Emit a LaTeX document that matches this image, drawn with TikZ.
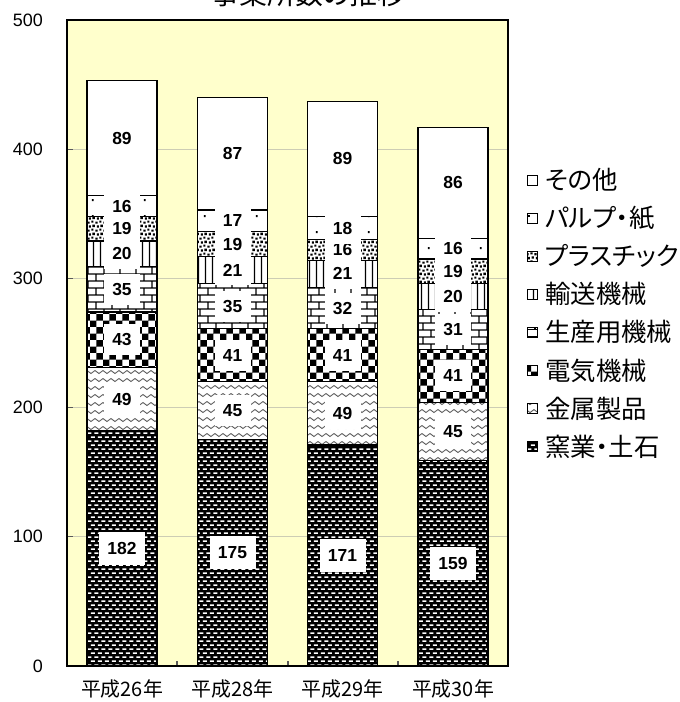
\documentclass[tikz,border=0pt]{standalone}
\usepackage{fontspec}
\setmainfont{Liberation Sans}
\newfontfamily\jp[RawFeature=+palt]{Noto Sans CJK JP}
\usetikzlibrary{patterns}

\definecolor{plotbg}{RGB}{255,255,204}
\definecolor{gridc}{RGB}{205,205,180}
\definecolor{tickc}{RGB}{90,90,90}

\pgfdeclarepatternformonly{darkdash}{\pgfpointorigin}{\pgfqpoint{7pt}{8pt}}{\pgfqpoint{7pt}{8pt}}{%
  \pgfsetlinewidth{1.5pt}%
  \pgfpathmoveto{\pgfqpoint{1pt}{2pt}}\pgfpathlineto{\pgfqpoint{5pt}{2pt}}%
  \pgfpathmoveto{\pgfqpoint{4.5pt}{6pt}}\pgfpathlineto{\pgfqpoint{7pt}{6pt}}%
  \pgfpathmoveto{\pgfqpoint{0pt}{6pt}}\pgfpathlineto{\pgfqpoint{1.5pt}{6pt}}%
  \pgfusepath{stroke}}
\pgfdeclarepatternformonly{wavy}{\pgfpointorigin}{\pgfqpoint{8pt}{8pt}}{\pgfqpoint{8pt}{8pt}}{%
  \pgfsetlinewidth{0.9pt}%
  \pgfpathmoveto{\pgfqpoint{0pt}{5.5pt}}\pgfpathlineto{\pgfqpoint{4pt}{2.5pt}}\pgfpathlineto{\pgfqpoint{8pt}{5.5pt}}%
  \pgfusepath{stroke}}
\pgfdeclarepatternformonly{checker}{\pgfpointorigin}{\pgfqpoint{13pt}{13pt}}{\pgfqpoint{13pt}{13pt}}{%
  \pgfpathrectangle{\pgfpointorigin}{\pgfqpoint{6.5pt}{6.5pt}}%
  \pgfpathrectangle{\pgfqpoint{6.5pt}{6.5pt}}{\pgfqpoint{6.5pt}{6.5pt}}%
  \pgfusepath{fill}}
\pgfdeclarepatternformonly{brick}{\pgfpointorigin}{\pgfqpoint{16pt}{14pt}}{\pgfqpoint{16pt}{14pt}}{%
  \pgfsetlinewidth{1.2pt}%
  \pgfpathmoveto{\pgfqpoint{0pt}{3pt}}\pgfpathlineto{\pgfqpoint{16pt}{3pt}}%
  \pgfpathmoveto{\pgfqpoint{0pt}{10pt}}\pgfpathlineto{\pgfqpoint{16pt}{10pt}}%
  \pgfpathmoveto{\pgfqpoint{1pt}{3pt}}\pgfpathlineto{\pgfqpoint{1pt}{10pt}}%
  \pgfpathmoveto{\pgfqpoint{9pt}{10pt}}\pgfpathlineto{\pgfqpoint{9pt}{14pt}}%
  \pgfpathmoveto{\pgfqpoint{9pt}{0pt}}\pgfpathlineto{\pgfqpoint{9pt}{3pt}}%
  \pgfusepath{stroke}}
\pgfdeclarepatternformonly{vlines}{\pgfpointorigin}{\pgfqpoint{7pt}{7pt}}{\pgfqpoint{7pt}{7pt}}{%
  \pgfsetlinewidth{1.4pt}%
  \pgfpathmoveto{\pgfqpoint{3.5pt}{0pt}}\pgfpathlineto{\pgfqpoint{3.5pt}{7pt}}%
  \pgfusepath{stroke}}
\pgfdeclarepatternformonly{confetti}{\pgfpointorigin}{\pgfqpoint{8pt}{8pt}}{\pgfqpoint{8pt}{8pt}}{%
  \pgfpathrectangle{\pgfqpoint{0.3pt}{0.3pt}}{\pgfqpoint{2.4pt}{2.2pt}}%
  \pgfpathrectangle{\pgfqpoint{4.3pt}{1.3pt}}{\pgfqpoint{2.2pt}{2pt}}%
  \pgfpathrectangle{\pgfqpoint{1.8pt}{4.3pt}}{\pgfqpoint{2pt}{2.4pt}}%
  \pgfpathrectangle{\pgfqpoint{5.5pt}{5pt}}{\pgfqpoint{2.3pt}{2.3pt}}%
  \pgfusepath{fill}}
\pgfdeclarepatternformonly{sdots}{\pgfpointorigin}{\pgfqpoint{12.5pt}{16pt}}{\pgfqpoint{12.5pt}{16pt}}{%
  \pgfpathrectangle{\pgfqpoint{5pt}{7pt}}{\pgfqpoint{2pt}{2pt}}%
  \pgfusepath{fill}}

\tikzset{
  segbase/.style={draw=black, line width=1.2bp},
  seg1/.style={segbase, preaction={fill=black}, pattern=darkdash, pattern color=white},
  seg2/.style={segbase, preaction={fill=white}, pattern=wavy, pattern color=black!65},
  seg3/.style={segbase, preaction={fill=white}, pattern=checker, pattern color=black},
  seg4/.style={segbase, preaction={fill=white}, pattern=brick, pattern color=black},
  seg5/.style={segbase, preaction={fill=white}, pattern=vlines, pattern color=black},
  seg6/.style={segbase, preaction={fill=white}, pattern=confetti, pattern color=black},
  seg7/.style={segbase, preaction={fill=white}, pattern=sdots, pattern color=black},
  seg8/.style={segbase, fill=white},
  lab/.style={fill=white, inner sep=0pt, font=\bfseries\fontsize{17.5}{17.5}\selectfont},
  ylab/.style={anchor=east, inner sep=0pt, font=\fontsize{18}{18}\selectfont},
  xlab/.style={inner sep=0pt, font=\jp\fontsize{20}{20}\selectfont},
  leglab/.style={anchor=west, inner sep=0pt, font=\jp\fontsize{25.5}{25.5}\selectfont},
}

\begin{document}
\begin{tikzpicture}[x=1bp,y=1bp]
\useasboundingbox (0,0) rectangle (680,702);
\fill[white] (0,0) rectangle (680,702);
\node[anchor=base, inner sep=0pt, font=\jp\fontsize{28}{28}\selectfont] (title) at (308.5,697) {事業所数の推移};

\begin{scope}[shift={(0,36)}, y=1.292bp]
  \fill[plotbg] (67,0) rectangle (508,500);
  \foreach \v in {100,200,300,400} {
    \draw[gridc, line width=1.2bp] (67,\v) -- (508,\v);
  }
  \foreach \v in {0,100,200,300,400,500} {
    \node[ylab] (y\v) at (43,\v) {\v};
  }
  \foreach \v in {100,200,300,400} {
    \draw[tickc, line width=1.2bp] (67,\v) -- (73,\v);
  }
  \foreach \t in {177,288,398} {
    \draw[tickc, line width=1.2bp] (\t,0) -- (\t,4);
  }
  \foreach \cx/\b/\vals in {122/1/{182,49,43,35,20,19,16,89},
                            232.5/2/{175,45,41,35,21,19,17,87},
                            342.5/3/{171,49,41,32,21,16,18,89},
                            453/4/{159,45,41,31,20,19,16,86}} {
    \xdef\cum{0}
    \foreach \v [count=\k] in \vals {
      \pgfmathsetmacro\segtop{\cum+\v}
      \path[seg\k] (\cx-35,\cum) rectangle (\cx+35,\segtop);
      \xdef\cum{\segtop}
    }
    \xdef\cum{0}
    \foreach \v [count=\k] in \vals {
      \pgfmathsetmacro\segmid{\cum+\v/2}
      \pgfmathsetmacro\bw{\v>99 ? 46 : 36}
      \pgfmathsetmacro\bh{\v>99 ? 33 : 31}
      \node[lab, minimum width=\bw bp, minimum height=\bh bp] (v\b\k) at (\cx,\segmid) {\v};
      \pgfmathsetmacro\segtop{\cum+\v}
      \xdef\cum{\segtop}
    }
  }
  \draw[line width=2.2bp] (67,0) rectangle (508,500);
\end{scope}

\foreach \cx/\t in {122/平成26年, 232.5/平成28年, 342.5/平成29年, 453/平成30年} {
  \node[xlab] at (\cx,13) {\t};
}

\foreach \k/\t [count=\i from 0] in {8/その他, 7/パルプ・紙, 6/プラスチック, 5/輸送機械,
                                      4/生産用機械, 3/電気機械, 2/金属製品, 1/窯業・土石} {
  \path[seg\k, line width=0.9bp] (527,{522-38.1*\i-5}) rectangle (537,{522-38.1*\i+5});
  \node[leglab] (lg\k) at (545,{522-38.1*\i}) {\t};
}
\end{tikzpicture}
\end{document}
